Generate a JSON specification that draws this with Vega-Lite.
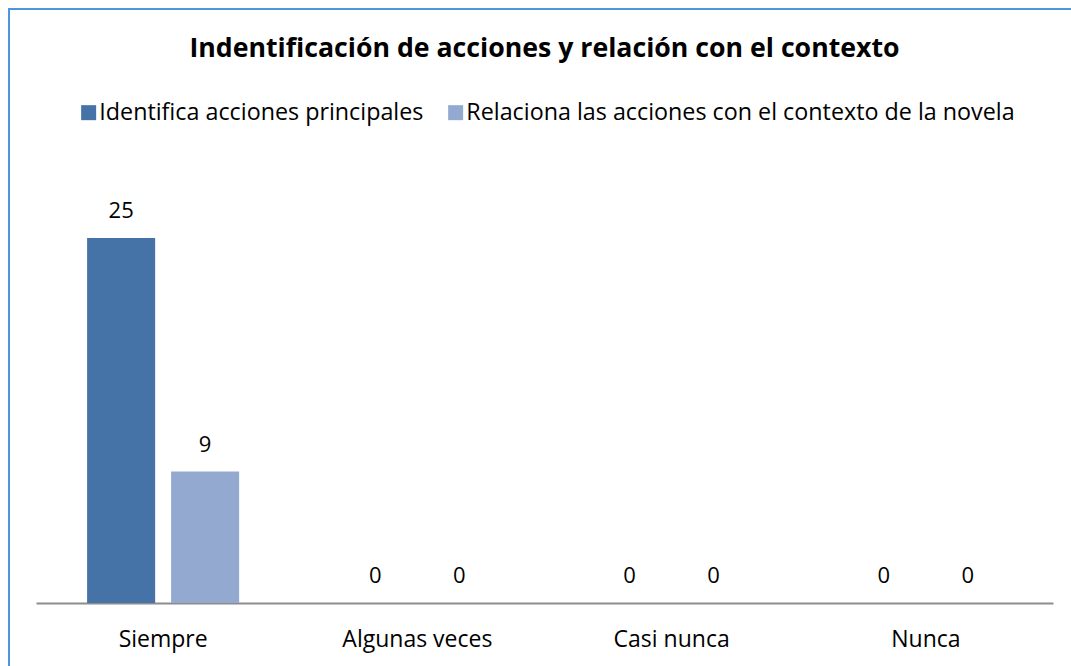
{
  "$schema": "https://vega.github.io/schema/vega-lite/v6.json",
  "autosize": "none",
  "padding": {"left": 9, "top": 9, "right": -3, "bottom": -3},
  "width": 1065,
  "height": 660,
  "background": "white",
  "config": {
    "view": {"stroke": "#4E95D9", "strokeWidth": 2},
    "font": "Open Sans"
  },
  "title": {
    "text": "Indentificación de acciones y relación con el contexto",
    "font": "Open Sans",
    "fontSize": 26.7,
    "fontWeight": "bold",
    "color": "#000000",
    "anchor": "middle",
    "frame": "group",
    "offset": 0,
    "dy": 54,
    "dx": 3
  },
  "data": {
    "values": [
      {"cat": "Siempre", "serie": "Identifica acciones principales", "value": 25},
      {"cat": "Siempre", "serie": "Relaciona las acciones con el contexto de la novela", "value": 9},
      {"cat": "Algunas veces", "serie": "Identifica acciones principales", "value": 0},
      {"cat": "Algunas veces", "serie": "Relaciona las acciones con el contexto de la novela", "value": 0},
      {"cat": "Casi nunca", "serie": "Identifica acciones principales", "value": 0},
      {"cat": "Casi nunca", "serie": "Relaciona las acciones con el contexto de la novela", "value": 0},
      {"cat": "Nunca", "serie": "Identifica acciones principales", "value": 0},
      {"cat": "Nunca", "serie": "Relaciona las acciones con el contexto de la novela", "value": 0}
    ]
  },
  "encoding": {
    "x": {
      "field": "cat",
      "type": "nominal",
      "sort": ["Siempre", "Algunas veces", "Casi nunca", "Nunca"],
      "scale": {"range": [27, 1044], "paddingInner": 0.402, "paddingOuter": 0.201},
      "axis": {
        "title": null,
        "labelAngle": 0,
        "ticks": false,
        "domainColor": "#8C8C8C",
        "domainWidth": 2,
        "labelFont": "Open Sans",
        "labelFontSize": 23,
        "labelColor": "#000000",
        "labelPadding": 25,
        "offset": -66,
        "grid": false
      }
    },
    "xOffset": {
      "field": "serie",
      "type": "nominal",
      "sort": ["Identifica acciones principales", "Relaciona las acciones con el contexto de la novela"],
      "scale": {"paddingInner": 0.19, "paddingOuter": 0}
    },
    "y": {
      "field": "value",
      "type": "quantitative",
      "scale": {"domain": [0, 30], "range": [594, 156], "nice": false, "zero": true},
      "axis": null
    }
  },
  "layer": [
    {
      "mark": {"type": "bar"},
      "encoding": {
        "color": {
          "field": "serie",
          "type": "nominal",
          "sort": ["Identifica acciones principales", "Relaciona las acciones con el contexto de la novela"],
          "scale": {"range": ["#4572A7", "#94A9D0"]},
          "legend": {
            "title": null,
            "orient": "none",
            "legendX": 68,
            "legendY": 92,
            "direction": "horizontal",
            "columns": 2,
            "symbolType": "square",
            "symbolSize": 225,
            "symbolStrokeWidth": 0,
            "labelFont": "Open Sans",
            "labelFontSize": 23.3,
            "labelColor": "#000000",
            "labelOffset": -1,
            "columnPadding": 20,
            "labelLimit": 800
          }
        }
      }
    },
    {
      "mark": {"type": "text", "baseline": "bottom", "dy": -15, "font": "Open Sans", "fontSize": 22, "color": "#000000"},
      "encoding": {
        "text": {"field": "value", "type": "quantitative"}
      }
    }
  ]
}
